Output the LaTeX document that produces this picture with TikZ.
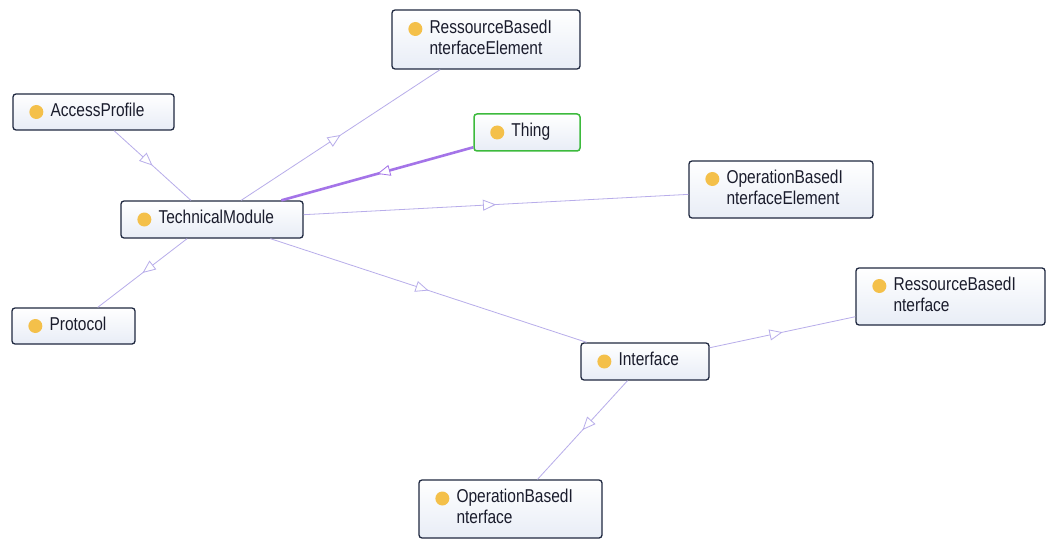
\documentclass[tikz,border=0pt]{standalone}
\usepackage{fontspec}
\usepackage{graphicx}
\setmainfont{Liberation Sans}
\usetikzlibrary{arrows.meta,decorations.markings}

\definecolor{boxfill}{HTML}{E8EDF6}
\definecolor{boxline}{HTML}{1F2840}
\definecolor{dotc}{HTML}{F4C04A}
\definecolor{edgec}{HTML}{B8ADEA}
\definecolor{topedge}{HTML}{A474E8}
\definecolor{thingline}{HTML}{3DBA3D}
\definecolor{txt}{HTML}{1A1C2C}

\tikzset{
  cls/.style={draw=boxline, line width=1.3pt, rounded corners=3pt,
    top color=white, bottom color=boxfill, inner sep=0pt},
  rootcls/.style={cls, draw=thingline, line width=1.5pt},
  lbl/.style={inner sep=0pt, text=txt, font=\fontsize{15.5}{17.5}\selectfont},
  subarrow/.style={decoration={markings,
      mark=at position 0.5 with {\arrow{Triangle[length=13pt,width=11pt,fill=white,line width=0.8pt]}}},
    postaction={decorate}},
  edge/.style={draw=edgec, line width=0.8pt, subarrow},
  topedgestyle/.style={draw=topedge, line width=2.6pt, subarrow},
}

% class box: style, name, x, y, width, height, label, dot offset
\newcommand\clsnode[8]{%
  \node[#1, minimum width=#5pt, minimum height=#6pt] (#2) at (#3,#4) {};
  \fill[dotc] ([xshift=24pt,yshift=#8pt]#2.west) circle (7pt);
  \node[lbl, anchor=west] (#2-t) at ([xshift=38pt]#2.west)
    {\scalebox{1}[1.2]{\begin{tabular}{@{}l@{}}#7\end{tabular}}};
}

\begin{document}
\begin{tikzpicture}[x=1pt, y=-1pt]
  \useasboundingbox[fill=white] (0,0) rectangle (1048,540);

  \clsnode{cls}{rbie}{486}{39.5}{188}{59}{RessourceBasedI\\nterfaceElement}{10.5}
  \clsnode{cls}{ap}{93.5}{112}{161}{36}{AccessProfile}{0}
  \clsnode{rootcls}{thing}{527}{132.5}{106}{37}{Thing}{0}
  \clsnode{cls}{tm}{212}{219.5}{182}{37}{TechnicalModule}{0}
  \clsnode{cls}{obie}{781}{189.5}{184}{57}{OperationBasedI\\nterfaceElement}{10.5}
  \clsnode{cls}{proto}{73.5}{326}{123}{36}{Protocol}{0}
  \clsnode{cls}{rbi}{950.5}{296.5}{189}{57}{RessourceBasedI\\nterface}{10.5}
  \clsnode{cls}{iface}{645}{361.5}{128}{37}{Interface}{0}
  \clsnode{cls}{obi}{510.5}{509}{183}{58}{OperationBasedI\\nterface}{10.5}

  % subclass links, drawn from superclass to subclass
  \draw[edge] (ap) -- (tm);
  \draw[edge] (tm) -- (rbie);
  \draw[topedgestyle] (thing) -- (tm);
  \draw[edge] (tm) -- (obie);
  \draw[edge] (tm) -- (proto);
  \draw[edge] (tm) -- (iface);
  \draw[edge] (iface) -- (rbi);
  \draw[edge] (iface) -- (obi);
\end{tikzpicture}
\end{document}
